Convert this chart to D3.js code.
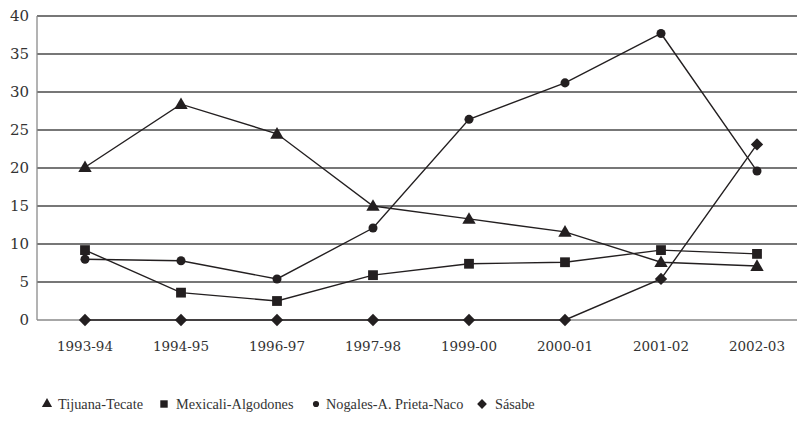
<!DOCTYPE html>
<html>
<head>
<meta charset="utf-8">
<script src="https://cdn.jsdelivr.net/npm/d3@7"></script>
<style>
  html, body { margin: 0; padding: 0; background: #fff; }
  svg { display: block; }
  .tick-label { font-family: 'DejaVu Serif', 'Liberation Serif', serif; }
  .legend-label { font-family: 'Liberation Serif', 'DejaVu Serif', serif; }
</style>
</head>
<body>
<svg id="chart" width="797" height="422"></svg>
<script>
// Crossing periods (fiscal years)
const categories = ["1993-94", "1994-95", "1996-97", "1997-98", "1999-00", "2000-01", "2001-02", "2002-03"];

// Share per crossing corridor
const tijuanaTecate     = [20.1, 28.4, 24.5, 15.0, 13.3, 11.6, 7.6, 7.1];
const mexicaliAlgodones = [9.2, 3.6, 2.5, 5.9, 7.4, 7.6, 9.2, 8.7];
const nogalesPrietaNaco = [8.0, 7.8, 5.4, 12.1, 26.4, 31.2, 37.7, 19.6];
const sasabe            = [0, 0, 0, 0, 0, 0, 5.4, 23.1];

const seriesNames = ["Tijuana-Tecate", "Mexicali-Algodones", "Nogales-A. Prieta-Naco", "Sásabe"];
const yTicks = [0, 5, 10, 15, 20, 25, 30, 35, 40];

const series = [
  { name: seriesNames[0], values: tijuanaTecate,     symbol: d3.symbolTriangle, size: 78, rotate: 0 },
  { name: seriesNames[1], values: mexicaliAlgodones, symbol: d3.symbolSquare,   size: 96, rotate: 0 },
  { name: seriesNames[2], values: nogalesPrietaNaco, symbol: d3.symbolCircle,   size: 64, rotate: 0 },
  { name: seriesNames[3], values: sasabe,            symbol: d3.symbolSquare,   size: 76, rotate: 45 }
];

const svg = d3.select("#chart");
const ink = "#231f20";
const plotLeft = 37, plotRight = 797, plotTop = 16, plotBottom = 320;

const x = d3.scalePoint().domain(categories).range([85, 757]);
const y = d3.scaleLinear().domain([0, 40]).range([plotBottom, plotTop]);

// horizontal gridlines
svg.append("g").selectAll("line")
  .data(yTicks.filter(t => t > 0))
  .join("line")
  .attr("x1", plotLeft).attr("x2", plotRight)
  .attr("y1", d => y(d)).attr("y2", d => y(d))
  .attr("stroke", "#4a4a4a").attr("stroke-width", 1.3);

// axes frame
svg.append("line")
  .attr("x1", plotLeft).attr("x2", plotLeft).attr("y1", plotTop).attr("y2", plotBottom)
  .attr("stroke", "#8a8a8a").attr("stroke-width", 1.3);
svg.append("line")
  .attr("x1", plotLeft).attr("x2", plotRight).attr("y1", plotBottom).attr("y2", plotBottom)
  .attr("stroke", "#8a8a8a").attr("stroke-width", 1.3);

// y tick labels
svg.append("g").selectAll("text")
  .data(yTicks)
  .join("text")
  .attr("class", "tick-label")
  .attr("x", 29).attr("y", d => y(d))
  .attr("dy", "0.36em")
  .attr("text-anchor", "end")
  .attr("font-size", 15)
  .attr("fill", "#333")
  .text(d => d);

// x tick labels
svg.append("g").selectAll("text")
  .data(categories)
  .join("text")
  .attr("class", "tick-label")
  .attr("x", d => x(d)).attr("y", 351)
  .attr("text-anchor", "middle")
  .attr("font-size", 13.5)
  .attr("fill", "#333")
  .text(d => d);

// series lines
const line = d3.line()
  .x((d, i) => x(categories[i]))
  .y(d => y(d));

svg.append("g").selectAll("path")
  .data(series)
  .join("path")
  .attr("d", s => line(s.values))
  .attr("fill", "none")
  .attr("stroke", ink)
  .attr("stroke-width", 1.4);

// markers
series.forEach(s => {
  const sym = d3.symbol().type(s.symbol).size(s.size);
  svg.append("g").selectAll("path")
    .data(s.values)
    .join("path")
    .attr("transform", (d, i) => {
      const dy = s.symbol === d3.symbolTriangle ? 1 : 0;
      return `translate(${x(categories[i])},${y(d) + dy}) rotate(${s.rotate})`;
    })
    .attr("d", sym())
    .attr("fill", ink);
});

// legend
const legendItems = [
  { sx: 47,  tx: 58,  s: series[0], size: 45 },
  { sx: 164, tx: 176, s: series[1], size: 55 },
  { sx: 316, tx: 326, s: series[2], size: 30 },
  { sx: 482, tx: 495, s: series[3], size: 48 }
];
const legendY = 409;
const lg = svg.append("g");
legendItems.forEach(it => {
  lg.append("path")
    .attr("transform", `translate(${it.sx},${legendY - 5}) rotate(${it.s.rotate})`)
    .attr("d", d3.symbol().type(it.s.symbol).size(it.size)())
    .attr("fill", ink);
  lg.append("text")
    .attr("class", "legend-label")
    .attr("x", it.tx).attr("y", legendY)
    .attr("font-size", 14.3)
    .attr("fill", "#333")
    .text(it.s.name);
});
</script>
</body>
</html>
